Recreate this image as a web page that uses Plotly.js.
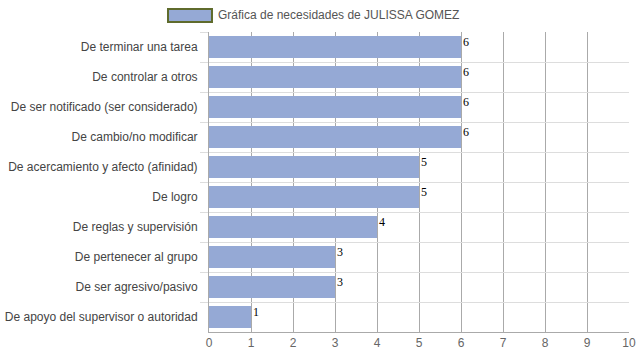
<!DOCTYPE html>
<html>
<head>
<meta charset="utf-8">
<script src="https://cdn.plot.ly/plotly-3.0.1.min.js"></script>
<style>html,body{margin:0;padding:0;background:#fff}#chart{width:639px;height:360px}</style>
</head>
<body>
<div id="chart"></div>
<script>
const categories = [
  "De terminar una tarea",
  "De controlar a otros",
  "De ser notificado (ser considerado)",
  "De cambio/no modificar",
  "De acercamiento y afecto (afinidad)",
  "De logro",
  "De reglas y supervisión",
  "De pertenecer al grupo",
  "De ser agresivo/pasivo",
  "De apoyo del supervisor o autoridad"
];
const values = [6, 6, 6, 6, 5, 5, 4, 3, 3, 1];
const seriesName = "Gráfica de necesidades de JULISSA GOMEZ";
const xTicks = [0,1,2,3,4,5,6,7,8,9,10];

const trace = {
  type: "bar",
  orientation: "h",
  x: values,
  y: categories,
  name: seriesName,
  marker: {color: "#95a9d5"},
  hoverinfo: "none",
  showlegend: false
};

const annotations = categories.map((c, i) => ({
  x: values[i], y: c, xref: "x", yref: "y",
  text: String(values[i]), showarrow: false,
  xanchor: "left", yanchor: "middle", xshift: 0, yshift: 5,
  font: {family: "Liberation Serif, Times New Roman, serif", size: 12, color: "#000"}
}));
annotations.push({
  xref: "paper", yref: "paper", x: 0.017, y: 1, yanchor: "middle", xanchor: "left",
  text: seriesName, showarrow: false, yshift: 17,
  font: {family: "Liberation Sans, Arial, sans-serif", size: 12, color: "#555"}
});

const layout = {
  width: 639, height: 360,
  margin: {l: 209, r: 10, t: 32, b: 28},
  paper_bgcolor: "#fff", plot_bgcolor: "#fff",
  font: {family: "Liberation Sans, Arial, sans-serif", size: 12, color: "#444"},
  bargap: 0.27,
  xaxis: {
    range: [0, 10], tickvals: xTicks, ticktext: xTicks.map(String),
    showgrid: true, gridcolor: "#aaaaaa", gridwidth: 1,
    zeroline: false, showline: true, linecolor: "#aaaaaa",
    ticks: "", tickfont: {size: 12, color: "#666"}, fixedrange: true
  },
  yaxis: {
    type: "category", categoryorder: "array", categoryarray: categories,
    autorange: "reversed", tickson: "boundaries",
    showgrid: true, gridcolor: "#dddddd", gridwidth: 1,
    ticks: "outside", ticklen: 8, tickcolor: "#dddddd",
    ticklabelstandoff: 8,
    showline: true, linecolor: "#aaaaaa",
    tickfont: {size: 12, color: "#444"}, fixedrange: true
  },
  shapes: [{
    type: "rect", xref: "paper", yref: "paper",
    x0: -0.0976, x1: 0.0071, yanchor: 1, ysizemode: "pixel",
    y0: 10, y1: 23,
    fillcolor: "#95a9d5", line: {color: "#5f6b2c", width: 2}
  }],
  annotations: annotations,
  showlegend: false
};

Plotly.newPlot("chart", [trace], layout, {displayModeBar: false, staticPlot: true});
</script>
</body>
</html>
